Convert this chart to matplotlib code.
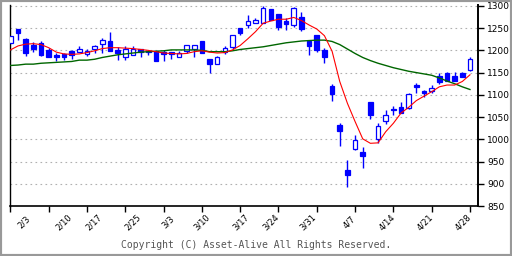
import matplotlib

matplotlib.use("Agg")
import matplotlib.pyplot as plt
import matplotlib.transforms as mtransforms
from matplotlib.patches import Rectangle
import numpy as np

# daily candles, Feb 3 .. Apr 28
opens = [1216, 1248, 1226, 1212, 1217, 1201, 1190, 1191, 1199, 1197,
         1191, 1204, 1214, 1221, 1201, 1186, 1189, 1203, 1199, 1199,
         1197, 1197, 1186, 1198, 1203, 1220, 1180, 1170, 1196, 1208,
         1250, 1257, 1262, 1262, 1292, 1282, 1265, 1258, 1275, 1220,
         1235, 1201, 1120, 1032, 931, 979, 971, 1084, 1001, 1041,
         1069, 1073, 1070, 1123, 1109, 1109, 1143, 1149, 1143, 1148,
         1156]
highs = [1233, 1248, 1228, 1219, 1220, 1205, 1195, 1194, 1201, 1210,
         1204, 1213, 1227, 1241, 1208, 1210, 1210, 1203, 1201, 1199,
         1201, 1197, 1199, 1212, 1212, 1220, 1180, 1188, 1209, 1234,
         1250, 1280, 1272, 1300, 1292, 1282, 1272, 1298, 1286, 1220,
         1235, 1205, 1124, 1036, 953, 1010, 983, 1084, 1037, 1066,
         1075, 1083, 1105, 1126, 1111, 1121, 1149, 1151, 1151, 1151,
         1186]
lows = [1215, 1223, 1188, 1197, 1187, 1186, 1175, 1178, 1181, 1197,
        1187, 1195, 1195, 1199, 1179, 1179, 1189, 1184, 1190, 1175,
        1176, 1180, 1185, 1194, 1184, 1193, 1150, 1170, 1191, 1204,
        1235, 1250, 1261, 1261, 1268, 1246, 1246, 1253, 1244, 1190,
        1197, 1172, 1086, 985, 893, 976, 936, 1046, 991, 1034,
        1055, 1060, 1068, 1105, 1096, 1105, 1124, 1130, 1130, 1139,
        1154]
closes = [1232, 1240, 1193, 1203, 1190, 1186, 1185, 1185, 1190, 1203,
          1198, 1210, 1224, 1199, 1195, 1203, 1204, 1197, 1197, 1176,
          1191, 1191, 1195, 1212, 1212, 1193, 1169, 1185, 1205, 1234,
          1238, 1265, 1268, 1295, 1268, 1253, 1260, 1295, 1249, 1210,
          1201, 1184, 1102, 1018, 920, 999, 963, 1055, 1030, 1054,
          1065, 1060, 1102, 1117, 1104, 1115, 1128, 1132, 1132, 1141,
          1180]

# moving average lines as drawn
ma_short = [1201, 1210, 1214, 1215, 1213, 1206, 1196, 1192, 1191, 1192,
            1195, 1199, 1204, 1206, 1206, 1205, 1204, 1202, 1200, 1197,
            1194, 1193, 1192, 1193, 1197, 1199, 1196, 1194, 1195, 1201,
            1211, 1226, 1242, 1261, 1266, 1270, 1270, 1274, 1267, 1257,
            1248, 1233, 1198, 1130, 1081, 1040, 1001, 991, 992, 1017,
            1036, 1059, 1072, 1087, 1097, 1107, 1118, 1122, 1122, 1130,
            1145]
ma_long = [1166, 1167, 1169, 1169, 1171, 1172, 1173, 1174, 1175, 1178,
           1178, 1180, 1184, 1187, 1190, 1192, 1194, 1196, 1197, 1198,
           1199, 1201, 1201, 1201, 1201, 1200, 1197, 1197, 1197, 1199,
           1202, 1204, 1206, 1208, 1211, 1214, 1217, 1219, 1221, 1222,
           1223, 1223, 1220, 1213, 1203, 1193, 1184, 1177, 1171, 1166,
           1161, 1157, 1153, 1150, 1147, 1144, 1138, 1131, 1125, 1118,
           1112]

week_labels = ["2/3", "2/10", "2/17", "2/25", "3/3", "3/10", "3/17",
               "3/24", "3/31", "4/7", "4/14", "4/21", "4/28"]
week_ticks = list(range(0, 61, 5))
label_pos = [1.8, 7.0, 10.9, 16.0, 20.6, 25.0, 30.1, 34.0, 38.9, 44.2,
             49.2, 54.1, 59.1]

blue = "#0000ff"

fig = plt.figure(figsize=(5.12, 2.56), dpi=100)
fig.patch.set_facecolor("white")
ax = fig.add_axes([10 / 512, 50 / 256, 468 / 512, 201 / 256])

x = np.arange(len(opens))
o = np.array(opens)
c = np.array(closes)
up = c >= o

ax.vlines(x, lows, highs, color=blue, lw=1.0, zorder=2)
ax.bar(x, np.maximum(np.abs(c - o), 1.5), bottom=np.minimum(o, c), width=0.6,
       color=np.where(up, "white", blue), edgecolor=blue, linewidth=0.9, zorder=3)

ax.plot(x, ma_long, color="#006600", lw=1.0, zorder=4)
ax.plot(x, ma_short, color="#ff0000", lw=0.8, zorder=5)

ax.set_xlim(-0.05, 61.05)
ax.set_ylim(850, 1302)
ax.set_yticks(range(850, 1301, 50))
ax.yaxis.tick_right()
ax.tick_params(axis="y", direction="out", length=4.5, width=1.0, labelsize=6.5,
               pad=2, colors="black")
ax.set_xticks(week_ticks)
ax.set_xticklabels([])
ax.tick_params(axis="x", direction="out", length=4.5, width=1.0)

ax.grid(axis="y", color="#b0b0b0", lw=0.8, linestyle=(0, (1.5, 3)))
ax.set_axisbelow(True)

ax.spines["top"].set_visible(False)
ax.spines["left"].set_linewidth(1.0)
ax.spines["right"].set_linewidth(1.4)
ax.spines["bottom"].set_linewidth(1.2)

trans = mtransforms.blended_transform_factory(ax.transData, ax.transAxes)
for pos, lab in zip(label_pos, week_labels):
    ax.text(pos, -0.08, lab, transform=trans, rotation=45, ha="center",
            va="center", fontsize=6, clip_on=False)

fig.text(0.5, 1 - 245 / 256, "Copyright (C) Asset-Alive All Rights Reserved.",
         family="DejaVu Sans Mono", fontsize=7, color="#555555",
         ha="center", va="center")

fig.patches.append(Rectangle((0, 0), 1, 1, transform=fig.transFigure,
                             fill=False, edgecolor="#999999", lw=3))

fig.savefig("out.png", dpi=100)
